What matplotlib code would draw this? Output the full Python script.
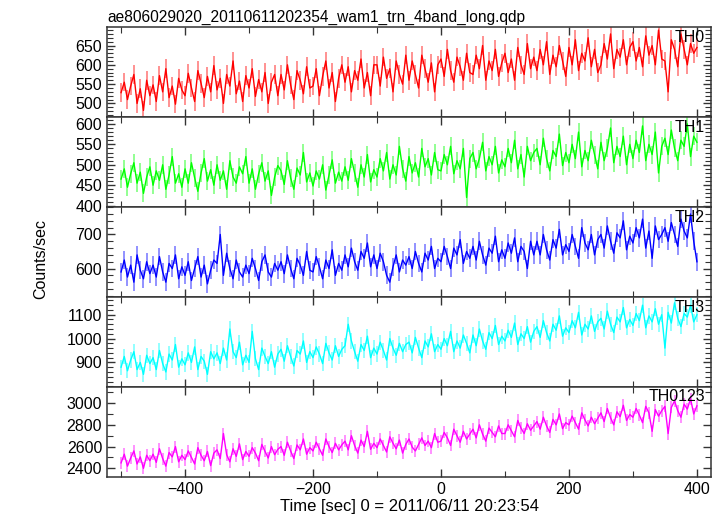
import matplotlib
matplotlib.use("Agg")
import matplotlib.pyplot as plt
import numpy as np
from matplotlib.ticker import MultipleLocator, FixedLocator

plt.rcParams['font.family'] = ['Liberation Sans', 'DejaVu Sans']

title = "ae806029020_20110611202354_wam1_trn_4band_long.qdp"

# time bins (sec), 5 s step from -500 to 400
t = np.arange(-500, 405, 5)

th0 = [528, 555, 510, 545, 575, 500, 538, 482, 560, 520,
       548, 505, 572, 530, 590, 515, 545, 498, 565, 535,
       520, 578, 540, 505, 585, 552, 515, 570, 530, 598,
       535, 565, 500, 575, 545, 610, 525, 558, 505, 572,
       540, 590, 518, 562, 530, 580, 500, 555, 575, 520,
       575, 535, 600, 548, 510, 585, 560, 525, 595, 540,
       545, 590, 520, 570, 610, 540, 580, 505, 565, 600,
       555, 595, 530, 585, 560, 615, 540, 580, 520, 600,
       600, 545, 620, 565, 590, 530, 610, 575, 550, 625,
       560, 610, 575, 540, 625, 590, 555, 605, 530, 600,
       615, 570, 640, 585, 555, 620, 595, 560, 630, 580,
       575, 625, 590, 650, 560, 610, 585, 640, 570, 605,
       630, 580, 615, 560, 645, 600, 575, 655, 590, 620,
       585, 640, 600, 660, 575, 625, 595, 650, 610, 570,
       645, 600, 665, 585, 630, 610, 670, 595, 640, 580,
       600, 655, 615, 680, 590, 640, 620, 665, 600, 645,
       660, 610, 645, 595, 675, 625, 650, 600, 690, 615,
       610, 530, 665, 640, 595, 680, 640, 600, 655, 630,
       645]

th1 = [465, 490, 445, 478, 505, 455, 482, 430, 470, 495,
       450, 485, 462, 500, 440, 475, 520, 455, 478, 445,
       490, 455, 505, 468, 435, 480, 515, 460, 488, 450,
       500, 462, 485, 440, 510, 470, 455, 495, 478, 520,
       455, 490, 440, 478, 505, 460, 485, 425, 470, 498,
       485, 452, 510, 468, 440, 492, 475, 530, 458, 480,
       448, 485, 465, 500, 438, 475, 512, 455, 482, 460,
       495, 462, 515, 480, 445, 500, 470, 525, 458, 488,
       470, 515, 485, 530, 465, 500, 475, 545, 490, 460,
       520, 480, 505, 470, 540, 495, 515, 475, 530, 488,
       485, 525, 500, 545, 478, 510, 490, 540, 420, 515,
       530, 490, 515, 555, 485, 520, 500, 545, 480, 512,
       495, 540, 505, 560, 490, 525, 470, 545, 510, 530,
       540, 500, 565, 515, 485, 535, 520, 575, 498, 530,
       505, 550, 515, 580, 495, 535, 510, 560, 525, 490,
       555, 510, 540, 590, 505, 545, 520, 570, 500, 550,
       515, 560, 530, 595, 510, 550, 525, 580, 480, 545,
       565, 525, 585, 540, 510, 560, 545, 600, 520, 570,
       555]

th2 = [590, 625, 575, 610, 560, 640, 595, 570, 620, 585,
       610, 575, 635, 590, 560, 615, 600, 640, 570, 605,
       580, 620, 565, 600, 635, 575, 610, 555, 595, 625,
       615, 700, 580, 645, 600, 570, 625, 590, 575, 610,
       585, 630, 600, 565, 620, 640, 590, 575, 615, 595,
       620, 585, 640, 600, 570, 630, 610, 580, 650, 595,
       590, 635, 605, 570, 625, 600, 655, 580, 615, 595,
       640, 605, 660, 620, 595, 650, 630, 675, 605, 640,
       600, 645, 620, 580, 560, 605, 640, 590, 625, 610,
       635, 600, 650, 615, 590, 645, 625, 665, 600, 630,
       620, 665, 635, 600, 660, 640, 685, 615, 650, 630,
       665, 625, 680, 640, 610, 660, 645, 695, 620, 655,
       630, 675, 645, 690, 620, 665, 650, 600, 680, 640,
       680, 640, 700, 655, 625, 685, 660, 715, 640, 670,
       650, 700, 665, 630, 720, 675, 655, 700, 640, 685,
       700, 660, 725, 680, 645, 705, 690, 740, 655, 695,
       675, 720, 690, 745, 660, 710, 630, 725, 685, 700,
       720, 680, 735, 700, 665, 745, 710, 690, 760, 680,
       620]

th3 = [880, 925, 865, 910, 945, 870, 900, 850, 930, 895,
       920, 870, 950, 895, 860, 935, 910, 975, 880, 915,
       890, 940, 900, 965, 870, 925, 905, 850, 945, 915,
       940, 895, 960, 910, 1040, 945, 920, 985, 890, 930,
       900, 1030, 915, 870, 960, 925, 895, 945, 880, 935,
       955, 905, 970, 925, 885, 950, 935, 990, 900, 945,
       920, 965, 935, 895, 980, 940, 910, 970, 925, 955,
       970, 1060, 990, 945, 905, 975, 950, 1010, 920, 960,
       935, 985, 950, 910, 1000, 960, 930, 980, 945, 975,
       985, 940, 1005, 960, 920, 990, 965, 1020, 945, 975,
       955, 1000, 970, 1030, 945, 990, 960, 1015, 980, 940,
       1015, 970, 1040, 990, 955, 1025, 1000, 1055, 975, 1010,
       990, 1035, 1005, 1065, 975, 1020, 1000, 1050, 985, 1030,
       1050, 1005, 1075, 1025, 990, 1060, 1035, 1095, 1010, 1045,
       1025, 1075, 1045, 1110, 1015, 1060, 1040, 1095, 1030, 1070,
       1085, 1040, 1115, 1060, 1025, 1090, 1070, 1130, 1045, 1080,
       1055, 1105, 1075, 1140, 1045, 1095, 1070, 1125, 1060, 1100,
       960, 1110, 1065, 1150, 1085, 1050, 1105, 1090, 1140, 1070,
       1100]

th0123 = [2450, 2530, 2420, 2495, 2560, 2440, 2505, 2400, 2520, 2470,
          2530, 2455, 2580, 2490, 2420, 2545, 2505, 2600, 2460, 2520,
          2480, 2560, 2500, 2440, 2590, 2520, 2470, 2555, 2425, 2540,
          2570, 2490, 2720, 2525, 2460, 2580, 2510, 2625, 2480, 2555,
          2510, 2590, 2540, 2470, 2620, 2555, 2495, 2600, 2525, 2575,
          2600, 2520, 2640, 2560, 2490, 2615, 2570, 2670, 2530, 2590,
          2560, 2640, 2580, 2520, 2670, 2600, 2545, 2630, 2570, 2615,
          2650, 2570, 2700, 2610, 2540, 2660, 2600, 2740, 2575, 2630,
          2590, 2670, 2610, 2550, 2690, 2630, 2580, 2660, 2540, 2620,
          2670, 2595, 2560, 2620, 2680, 2610, 2650, 2590, 2720, 2640,
          2650, 2730, 2680, 2610, 2760, 2700, 2640, 2740, 2670, 2715,
          2760, 2680, 2800, 2715, 2650, 2770, 2730, 2690, 2790, 2720,
          2720, 2800, 2745, 2690, 2840, 2770, 2720, 2810, 2750, 2790,
          2830, 2760, 2870, 2790, 2730, 2850, 2800, 2900, 2765, 2820,
          2800, 2880, 2820, 2760, 2910, 2845, 2790, 2870, 2810, 2860,
          2910, 2830, 2950, 2865, 2800, 2920, 2875, 2980, 2840, 2895,
          2870, 2950, 2890, 2820, 2970, 2910, 2740, 2940, 2880, 2930,
          2970, 2720, 2960, 3020, 2930, 2870, 2990, 2945, 3040, 2900,
          2975]

series = [th0, th1, th2, th3, th0123]
errs = [24, 22, 26, 32, 55]
names = ["TH0", "TH1", "TH2", "TH3", "TH0123"]
colors = ["#ff0000", "#00ff00", "#0000ff", "#00ffff", "#ff00ff"]
ylims = [(465, 698), (397, 617), (517, 781), (798, 1175), (2323, 3150)]
yticks = [[500, 550, 600, 650], [400, 450, 500, 550, 600], [600, 700],
          [900, 1000, 1100], [2400, 2600, 2800, 3000]]
yminor = [10, 10, 20, 20, 100]

fig = plt.figure(figsize=(7.24, 5.16), dpi=100)
gs = fig.add_gridspec(5, 1, left=107/724, right=711/724, top=1-27/516,
                      bottom=1-476.7/516, hspace=0)
axes = [fig.add_subplot(gs[i]) for i in range(5)]

for i, ax in enumerate(axes):
    y = np.array(series[i])
    ax.errorbar(t, y, yerr=errs[i], fmt='none', ecolor=colors[i], alpha=0.5,
                elinewidth=1.2, capsize=0, zorder=1)
    ax.plot(t, y, color=colors[i], lw=1.0, zorder=2)
    ax.set_xlim(-522, 422)
    ax.set_ylim(*ylims[i])
    ax.yaxis.set_major_locator(FixedLocator(yticks[i]))
    ax.yaxis.set_minor_locator(MultipleLocator(yminor[i]))
    ax.xaxis.set_major_locator(MultipleLocator(200))
    ax.xaxis.set_minor_locator(MultipleLocator(100))
    ax.tick_params(which='both', direction='in', top=True, right=True,
                   colors='#333333', labelcolor='black', labelsize=11.5)
    ax.tick_params(which='major', length=6, width=1)
    ax.tick_params(which='minor', length=4, width=0.8)
    for s in ax.spines.values():
        s.set_linewidth(1.1)
        s.set_color('#333333')
    ax.text(0.99, 0.97, names[i], transform=ax.transAxes, ha='right',
            va='top', fontsize=11.5, zorder=5)
    if i < 4:
        ax.tick_params(labelbottom=False)

axes[0].set_title(title, loc='left', fontsize=11.2, pad=4)
axes[4].set_xlabel("Time [sec] 0 = 2011/06/11 20:23:54", fontsize=12, labelpad=2)
fig.text(0.056, 0.498, "Counts/sec", rotation=90, ha='center', va='center',
         fontsize=11.5)

fig.savefig("out.png", dpi=100)
